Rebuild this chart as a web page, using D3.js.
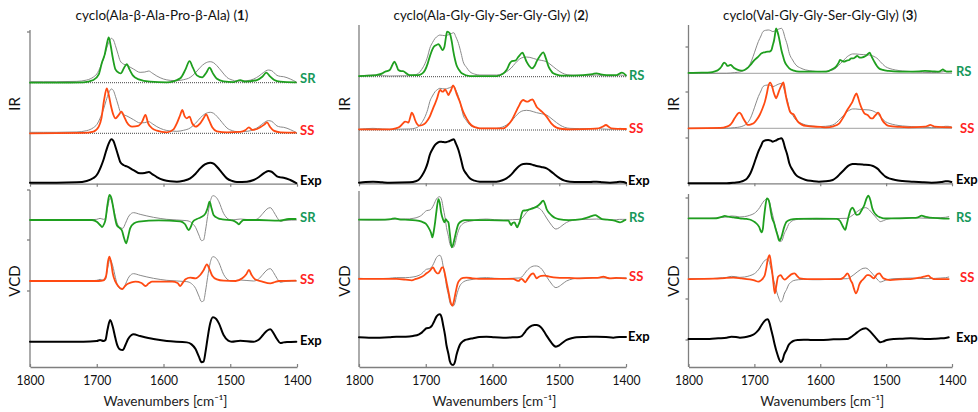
<!DOCTYPE html>
<html><head><meta charset="utf-8">
<script src="https://cdn.jsdelivr.net/npm/d3@7"></script>
<style>body{margin:0;background:#fff}svg{display:block;font-family:Lato,'Open Sans',sans-serif}</style>
</head><body><svg id="c" width="978" height="412"></svg>
<script>
// ---------- data (wavenumber [cm-1], intensity in arbitrary units) ----------
const wnTicks = [1800, 1700, 1600, 1500, 1400];
const titles = [["cyclo(Ala-β-Ala-Pro-β-Ala) (", "1", ")"],
                ["cyclo(Ala-Gly-Gly-Ser-Gly-Gly) (", "2", ")"],
                ["cyclo(Val-Gly-Gly-Ser-Gly-Gly) (", "3", ")"]];
const compNames = ["SR", "RS", "RS"];
const ssName = "SS";
const expName = "Exp";
const sectionNames = ["IR", "VCD"];
const xTitle = "Wavenumbers [cm⁻¹]";

const ir1_SR = [[1800,0],[1760,0],[1720,0.01],[1705,0.08],[1697,0.25],[1692,0.62],[1688,0.85],[1685,1.15],[1682,1.36],[1679,1.10],[1676,0.75],[1672,0.40],[1667,0.30],[1664,0.28],[1659,0.45],[1655,0.56],[1651,0.40],[1646,0.22],[1637,0.10],[1620,0.03],[1595,0.01],[1575,0.13],[1567,0.40],[1561,0.65],[1556,0.45],[1550,0.22],[1542,0.16],[1536,0.30],[1531,0.45],[1526,0.28],[1520,0.12],[1510,0.04],[1495,0.02],[1485,0.08],[1478,0.03],[1460,0.08],[1452,0.18],[1446,0.30],[1440,0.18],[1434,0.08],[1425,0.03],[1402,0.01]];
const ir1_SS = [[1800,0],[1720,0.01],[1705,0.05],[1697,0.20],[1693,0.45],[1689,1.00],[1685,1.35],[1682,1.15],[1679,0.85],[1675,0.55],[1672,0.45],[1667,0.55],[1663,0.65],[1659,0.50],[1655,0.33],[1647,0.20],[1638,0.22],[1632,0.35],[1627,0.55],[1623,0.30],[1617,0.15],[1610,0.08],[1595,0.03],[1585,0.12],[1580,0.30],[1575,0.55],[1572,0.70],[1568,0.50],[1565,0.45],[1561,0.50],[1557,0.30],[1552,0.20],[1545,0.30],[1540,0.45],[1536,0.57],[1532,0.40],[1527,0.18],[1520,0.06],[1505,0.03],[1485,0.04],[1477,0.10],[1472,0.18],[1467,0.10],[1460,0.13],[1455,0.18],[1449,0.26],[1445,0.33],[1440,0.18],[1435,0.08],[1425,0.03],[1402,0.02]];
const ir1_Exp = [[1800,0.03],[1760,0.03],[1730,0.04],[1715,0.08],[1705,0.17],[1700,0.26],[1694,0.50],[1690,0.71],[1686,0.98],[1682,1.21],[1678,1.33],[1675,1.28],[1672,1.11],[1668,0.85],[1665,0.66],[1660,0.56],[1655,0.52],[1645,0.41],[1635,0.31],[1628,0.32],[1622,0.35],[1617,0.29],[1610,0.20],[1600,0.11],[1590,0.07],[1580,0.06],[1570,0.09],[1560,0.16],[1552,0.30],[1545,0.46],[1538,0.58],[1530,0.63],[1525,0.60],[1520,0.51],[1512,0.32],[1505,0.16],[1497,0.08],[1490,0.05],[1475,0.06],[1465,0.11],[1457,0.20],[1450,0.31],[1443,0.38],[1438,0.36],[1430,0.22],[1425,0.19],[1420,0.18],[1410,0.11],[1401,0.02]];
const vcd1_SR = [[1800,0],[1760,0],[1707,0],[1700,-0.05],[1695,-0.15],[1692,-0.21],[1689,-0.12],[1687,0],[1684,0.45],[1681,0.75],[1678,0.65],[1676,0.45],[1673,0.10],[1670,-0.15],[1665,-0.25],[1662,-0.33],[1659,-0.55],[1656,-0.70],[1653,-0.50],[1650,-0.25],[1644,-0.10],[1637,-0.05],[1607,-0.01],[1575,-0.04],[1568,-0.12],[1562,-0.30],[1559,-0.20],[1556,-0.05],[1550,0.03],[1544,0.08],[1537,0.20],[1534,0.35],[1531,0.55],[1528,0.35],[1525,0.15],[1518,0.05],[1512,0.02],[1497,-0.01],[1490,-0.08],[1487,-0.13],[1484,-0.06],[1480,0],[1457,0],[1427,-0.02],[1412,0.03],[1402,0.03]];
const vcd1_SS = [[1800,0],[1697,0],[1690,0.02],[1686,0.15],[1683,0.60],[1681,0.73],[1678,0.50],[1676,0.23],[1672,-0.02],[1668,-0.15],[1662,-0.24],[1658,-0.16],[1655,-0.10],[1648,-0.04],[1642,-0.02],[1633,-0.06],[1627,-0.15],[1622,-0.07],[1617,-0.02],[1587,-0.02],[1579,-0.06],[1575,-0.15],[1571,-0.05],[1567,0.05],[1560,0.10],[1552,0.08],[1545,0.18],[1540,0.32],[1535,0.50],[1531,0.35],[1527,0.16],[1520,0.05],[1510,0.01],[1492,0],[1482,0.08],[1476,0.20],[1472,0.33],[1468,0.18],[1463,0.05],[1452,-0.02],[1440,-0.07],[1433,-0.03],[1427,0],[1402,0.01]];
const vcd1_Exp = [[1800,0],[1760,0],[1720,0],[1700,0.02],[1695,0.05],[1690,0.02],[1687,0.05],[1684,0.35],[1680,0.65],[1676,0.45],[1672,0.10],[1669,-0.12],[1666,-0.22],[1661,-0.25],[1657,-0.10],[1653,0.08],[1648,0.20],[1645,0.22],[1635,0.17],[1615,0.08],[1595,0.02],[1565,-0.02],[1558,-0.08],[1552,-0.22],[1547,-0.45],[1543,-0.62],[1540,-0.60],[1537,-0.30],[1534,0.10],[1530,0.55],[1526,0.73],[1521,0.68],[1517,0.55],[1510,0.20],[1503,0.03],[1498,0],[1485,0.03],[1465,0],[1458,0.05],[1451,0.20],[1445,0.33],[1440,0.37],[1435,0.25],[1430,0.08],[1425,-0.04],[1420,-0.02],[1415,-0.01],[1401,0]];

const ir2_RS = [[1800,0.02],[1785,0.03],[1774,0.05],[1765,0.10],[1761,0.15],[1754,0.20],[1750,0.35],[1747,0.45],[1744,0.35],[1741,0.20],[1737,0.17],[1734,0.17],[1729,0.10],[1724,0.05],[1711,0.05],[1705,0.10],[1701,0.20],[1697,0.40],[1694,0.60],[1690,0.82],[1687,0.92],[1684,0.95],[1681,0.98],[1678,0.90],[1675,0.80],[1672,0.90],[1670,1.15],[1668,1.35],[1664,1.30],[1661,1.05],[1659,0.80],[1656,0.50],[1654,0.35],[1650,0.20],[1646,0.10],[1634,0.02],[1594,0.02],[1585,0.08],[1579,0.20],[1574,0.40],[1571,0.47],[1566,0.48],[1561,0.60],[1555,0.72],[1552,0.60],[1549,0.45],[1545,0.32],[1541,0.25],[1537,0.32],[1534,0.45],[1529,0.62],[1524,0.73],[1520,0.55],[1516,0.30],[1512,0.17],[1509,0.10],[1500,0.04],[1494,0.03],[1464,0.05],[1450,0.08],[1444,0.10],[1438,0.07],[1429,0.05],[1414,0.05],[1406,0.12],[1400,0.04]];
const ir2_SS = [[1800,0.02],[1754,0.02],[1745,0.05],[1739,0.10],[1734,0.20],[1731,0.25],[1728,0.24],[1726,0.22],[1723,0.40],[1721,0.52],[1718,0.42],[1716,0.30],[1713,0.18],[1710,0.13],[1705,0.15],[1701,0.20],[1697,0.30],[1694,0.40],[1691,0.55],[1688,0.70],[1683,0.95],[1680,1.15],[1678,1.20],[1676,1.16],[1674,1.15],[1671,1.22],[1668,1.12],[1666,1.05],[1664,1.12],[1662,1.20],[1659,1.34],[1656,1.22],[1654,1.10],[1651,0.95],[1649,0.85],[1644,0.55],[1639,0.35],[1632,0.15],[1625,0.08],[1619,0.05],[1584,0.05],[1577,0.15],[1571,0.30],[1566,0.50],[1561,0.70],[1557,0.85],[1554,0.90],[1550,0.86],[1547,0.85],[1543,0.90],[1540,0.92],[1537,0.82],[1534,0.70],[1530,0.62],[1526,0.55],[1519,0.40],[1512,0.20],[1504,0.07],[1495,0.03],[1484,0.02],[1444,0.04],[1435,0.10],[1430,0.15],[1426,0.10],[1422,0.05],[1400,0.03]];
const ir2_Exp = [[1800,0.02],[1790,0.04],[1779,0.05],[1765,0.03],[1754,0.02],[1724,0.03],[1715,0.06],[1711,0.10],[1706,0.22],[1701,0.40],[1697,0.62],[1694,0.85],[1690,1.02],[1686,1.15],[1682,1.22],[1679,1.25],[1675,1.24],[1671,1.23],[1667,1.25],[1664,1.27],[1661,1.30],[1658,1.32],[1655,1.20],[1651,1.00],[1647,0.70],[1644,0.45],[1639,0.28],[1634,0.15],[1627,0.08],[1619,0.05],[1594,0.05],[1585,0.09],[1579,0.15],[1572,0.26],[1566,0.40],[1560,0.52],[1554,0.58],[1549,0.59],[1544,0.58],[1539,0.55],[1534,0.52],[1527,0.49],[1519,0.45],[1514,0.38],[1509,0.30],[1504,0.22],[1499,0.15],[1492,0.08],[1484,0.05],[1470,0.04],[1454,0.04],[1444,0.05],[1435,0.03],[1424,0.02],[1415,0.03],[1409,0.05],[1404,0.04],[1400,0.01]];
const vcd2_RS = [[1800,0],[1770,0],[1752,0.02],[1746,0.04],[1740,0.01],[1731,0],[1715,-0.02],[1706,-0.06],[1700,-0.12],[1696,-0.23],[1692,-0.40],[1690,-0.53],[1688,-0.35],[1686,-0.08],[1684,0.25],[1681,0.62],[1679,0.50],[1677,0.22],[1674,0],[1672,-0.08],[1670,0.02],[1668,-0.04],[1666,-0.08],[1664,-0.40],[1661,-0.83],[1659,-0.75],[1657,-0.58],[1654,-0.32],[1651,-0.13],[1646,-0.04],[1641,-0.01],[1606,-0.01],[1576,-0.03],[1574,-0.10],[1572,-0.16],[1570,-0.10],[1567,-0.08],[1565,-0.16],[1563,-0.23],[1561,-0.15],[1559,-0.05],[1556,0.20],[1554,0.27],[1550,0.28],[1546,0.30],[1541,0.33],[1536,0.37],[1532,0.42],[1529,0.47],[1524,0.57],[1521,0.45],[1519,0.32],[1515,0.20],[1511,0.12],[1506,0.05],[1501,0.02],[1486,-0.01],[1466,0.02],[1458,0.06],[1454,0.09],[1446,0.14],[1441,0.08],[1436,0.02],[1428,0],[1421,-0.01],[1415,-0.04],[1409,-0.08],[1405,-0.05],[1401,-0.01]];
const vcd2_SS = [[1800,-0.02],[1770,-0.02],[1744,-0.02],[1730,-0.04],[1721,-0.06],[1715,-0.02],[1709,0.02],[1703,0.08],[1699,0.15],[1694,0.22],[1691,0.30],[1689,0.33],[1686,0.22],[1683,0.15],[1681,0.15],[1678,0.24],[1676,0.32],[1674,0.33],[1671,0.10],[1668,-0.20],[1665,-0.50],[1663,-0.70],[1660,-0.82],[1658,-0.70],[1655,-0.40],[1652,-0.15],[1649,-0.05],[1644,0.01],[1639,0.02],[1630,0],[1614,-0.02],[1569,-0.02],[1564,-0.06],[1561,-0.08],[1558,-0.03],[1556,-0.02],[1553,-0.08],[1551,-0.12],[1548,-0.04],[1545,0.05],[1542,0.12],[1539,0.15],[1536,0.06],[1534,0],[1531,0.04],[1527,0.07],[1522,0.08],[1515,0.05],[1504,0.02],[1485,0.01],[1469,0],[1450,0.01],[1440,0.02],[1434,0.05],[1429,0.02],[1424,0],[1415,0.01],[1400,0]];
const vcd2_Exp = [[1800,0],[1785,-0.01],[1769,-0.01],[1755,0],[1744,0.02],[1730,0.02],[1719,0.04],[1710,0.09],[1706,0.14],[1702,0.22],[1699,0.27],[1694,0.29],[1691,0.34],[1688,0.45],[1684,0.62],[1681,0.68],[1679,0.69],[1676,0.58],[1674,0.37],[1671,0.05],[1669,-0.23],[1666,-0.50],[1664,-0.71],[1661,-0.82],[1659,-0.83],[1656,-0.72],[1654,-0.53],[1651,-0.33],[1649,-0.23],[1645,-0.13],[1641,-0.08],[1635,-0.05],[1629,-0.03],[1620,0.01],[1609,0.02],[1597,0],[1584,-0.01],[1570,0],[1560,0.01],[1556,0.04],[1552,0.14],[1549,0.22],[1545,0.30],[1541,0.35],[1537,0.37],[1534,0.37],[1530,0.34],[1526,0.27],[1522,0.15],[1519,0.05],[1515,-0.07],[1511,-0.18],[1508,-0.25],[1505,-0.28],[1500,-0.24],[1496,-0.18],[1489,-0.08],[1480,-0.02],[1474,0],[1460,0.01],[1444,0.02],[1430,0.01],[1419,-0.01],[1410,0.01],[1400,0.01]];

const ir3_RS = [[1800,0.01],[1780,0.02],[1767,0.03],[1760,0.06],[1755,0.10],[1750,0.20],[1748,0.27],[1746,0.32],[1743,0.28],[1741,0.22],[1738,0.24],[1736,0.25],[1733,0.20],[1730,0.15],[1725,0.10],[1720,0.08],[1715,0.10],[1711,0.15],[1706,0.25],[1702,0.35],[1698,0.43],[1694,0.50],[1689,0.60],[1684,0.63],[1679,0.65],[1676,0.66],[1674,0.70],[1672,0.85],[1670,1.00],[1668,1.25],[1667,1.35],[1665,1.25],[1663,1.10],[1661,0.90],[1659,0.70],[1656,0.48],[1654,0.35],[1650,0.22],[1647,0.15],[1640,0.08],[1632,0.05],[1591,0.05],[1582,0.12],[1576,0.20],[1572,0.32],[1570,0.40],[1567,0.37],[1564,0.35],[1560,0.38],[1556,0.40],[1553,0.45],[1550,0.45],[1547,0.48],[1544,0.52],[1541,0.48],[1539,0.47],[1536,0.48],[1533,0.50],[1529,0.55],[1525,0.62],[1522,0.50],[1518,0.35],[1514,0.22],[1511,0.15],[1505,0.10],[1496,0.07],[1480,0.05],[1466,0.05],[1450,0.06],[1441,0.07],[1430,0.06],[1420,0.05],[1416,0.09],[1414,0.12],[1411,0.08],[1408,0.05],[1401,0.06]];
const ir3_SS = [[1800,0],[1752,0.01],[1742,0.05],[1737,0.10],[1733,0.20],[1730,0.30],[1726,0.42],[1723,0.47],[1720,0.42],[1717,0.30],[1713,0.17],[1710,0.10],[1705,0.12],[1700,0.17],[1696,0.27],[1692,0.40],[1688,0.58],[1684,0.80],[1681,1.05],[1679,1.25],[1676,1.37],[1673,1.25],[1671,1.10],[1669,0.98],[1667,0.90],[1665,0.98],[1662,1.15],[1659,1.28],[1656,1.38],[1654,1.20],[1652,0.95],[1649,0.70],[1646,0.50],[1643,0.44],[1641,0.43],[1638,0.33],[1634,0.20],[1628,0.11],[1622,0.07],[1600,0.04],[1591,0.03],[1580,0.06],[1571,0.15],[1565,0.33],[1559,0.55],[1555,0.67],[1551,0.80],[1548,0.95],[1545,1.05],[1543,0.95],[1540,0.75],[1536,0.55],[1533,0.45],[1528,0.40],[1523,0.30],[1520,0.30],[1518,0.35],[1515,0.42],[1512,0.47],[1509,0.38],[1506,0.25],[1501,0.13],[1496,0.07],[1480,0.04],[1466,0.03],[1441,0.05],[1436,0.08],[1433,0.10],[1429,0.07],[1426,0.05],[1401,0.03]];
const ir3_Exp = [[1800,0],[1770,0],[1742,0],[1730,0.02],[1722,0.04],[1716,0.08],[1711,0.15],[1706,0.30],[1702,0.50],[1698,0.73],[1694,0.95],[1690,1.12],[1687,1.25],[1683,1.29],[1679,1.30],[1675,1.28],[1672,1.25],[1668,1.28],[1664,1.32],[1661,1.34],[1659,1.35],[1656,1.25],[1654,1.10],[1650,0.85],[1647,0.60],[1642,0.40],[1637,0.25],[1630,0.16],[1622,0.10],[1612,0.07],[1602,0.05],[1592,0.06],[1581,0.10],[1575,0.18],[1569,0.30],[1564,0.40],[1559,0.50],[1555,0.55],[1551,0.58],[1546,0.58],[1541,0.57],[1534,0.56],[1526,0.55],[1520,0.52],[1516,0.48],[1512,0.42],[1509,0.35],[1505,0.27],[1501,0.20],[1494,0.14],[1486,0.10],[1475,0.07],[1461,0.05],[1445,0.03],[1431,0.02],[1416,0.04],[1410,0.06],[1406,0.06],[1401,0.04]];
const vcd3_RS = [[1800,0],[1770,0],[1758,0],[1750,0.04],[1745,0.07],[1740,0.05],[1732,0.03],[1722,0],[1712,-0.02],[1705,-0.05],[1699,-0.12],[1693,-0.25],[1689,-0.42],[1687,-0.30],[1686,-0.10],[1684,0.25],[1681,0.60],[1679,0.57],[1677,0.45],[1675,0.20],[1673,0],[1670,-0.15],[1668,-0.30],[1665,-0.50],[1662,-0.68],[1660,-0.62],[1658,-0.50],[1655,-0.28],[1651,-0.10],[1645,-0.04],[1636,-0.02],[1606,-0.01],[1575,-0.02],[1570,-0.08],[1568,-0.15],[1565,-0.27],[1562,-0.35],[1560,-0.20],[1557,0.05],[1554,0.25],[1551,0.32],[1548,0.22],[1545,0.10],[1541,0.12],[1537,0.25],[1533,0.40],[1530,0.58],[1527,0.68],[1524,0.55],[1521,0.30],[1518,0.17],[1514,0.08],[1509,0.03],[1504,0],[1479,0],[1460,0.01],[1453,0.02],[1446,0.08],[1440,0.04],[1434,0.02],[1418,0],[1405,-0.01]];
const vcd3_SS = [[1800,-0.01],[1760,0],[1745,0.02],[1732,0.03],[1720,0.01],[1707,-0.02],[1700,-0.05],[1694,-0.09],[1690,-0.05],[1687,0.01],[1684,0.12],[1682,0.31],[1680,0.55],[1677,0.71],[1675,0.50],[1673,0.21],[1671,-0.15],[1669,-0.44],[1667,-0.25],[1664,0.06],[1660,0.11],[1657,0.02],[1654,-0.03],[1651,0.01],[1647,0.08],[1644,0.13],[1639,0.16],[1635,0.08],[1631,0.01],[1620,-0.01],[1606,-0.01],[1570,-0.01],[1565,0.03],[1562,0.09],[1559,0.16],[1556,0.08],[1554,-0.04],[1551,-0.15],[1549,-0.29],[1546,-0.44],[1543,-0.33],[1541,-0.19],[1538,-0.08],[1535,-0.02],[1532,0.05],[1529,0.11],[1526,0.11],[1524,0.09],[1519,0.01],[1516,0.07],[1514,0.13],[1510,0.16],[1507,0.08],[1504,0.01],[1494,-0.04],[1480,-0.02],[1463,-0.01],[1450,0.03],[1443,0.06],[1436,0.09],[1432,0.03],[1428,-0.01],[1405,-0.01]];
const vcd3_Exp = [[1800,0],[1768,0],[1755,0.02],[1742,0.04],[1735,0.07],[1728,0.06],[1722,0.04],[1715,0.05],[1707,0.09],[1700,0.15],[1696,0.22],[1692,0.32],[1689,0.42],[1685,0.53],[1682,0.58],[1680,0.59],[1677,0.48],[1675,0.32],[1672,0.08],[1669,-0.18],[1666,-0.40],[1663,-0.58],[1660,-0.70],[1657,-0.62],[1655,-0.48],[1651,-0.32],[1648,-0.18],[1644,-0.10],[1641,-0.06],[1633,-0.03],[1625,-0.02],[1612,-0.03],[1600,-0.03],[1580,-0.01],[1559,0],[1554,0.05],[1549,0.12],[1544,0.20],[1539,0.27],[1535,0.31],[1531,0.32],[1527,0.28],[1524,0.22],[1520,0.13],[1516,0.04],[1512,-0.05],[1509,-0.10],[1504,-0.07],[1499,-0.03],[1488,0],[1475,0.01],[1463,0.02],[1450,0.01],[1438,0],[1425,0.01],[1417,0.02],[1410,0.03],[1405,0.05]];

// ---------- layout & style ----------
const UNIT = 100 / 3; // px per intensity unit
const COL = {green: "#1f9f1f", red: "#ff4a12", gray: "#8a8a8a", black: "#000",
             lblGreen: "#16985a", lblRed: "#ff2222", axis: "#7f7f7f"};
const layout = [
  {x0: 30, x1: 297, cx: 162, titleW: 173, irTop: 30, vcdTop: 190, bottom: 367,
   irBase: [82.7, 133.3, 183.7], vcdBase: [220, 281, 341.7], yLabX: 20,
   lblX: [300, 300, 300], irLblY: [83.3, 135, 185], vcdLblY: [222, 284, 345],
   irTicks: [32], vcdTicks: [190, 240, 291]},
  {x0: 359, x1: 626, cx: 491, titleW: 195, irTop: 25, vcdTop: 191, bottom: 367,
   irBase: [76.7, 130, 183.3], vcdBase: [219.7, 278.3, 337.3], yLabX: 350,
   lblX: [629, 629, 628], irLblY: [80, 132.7, 185], vcdLblY: [222, 281, 341],
   irTicks: [], vcdTicks: []},
  {x0: 688.5, x1: 952, cx: 820, titleW: 194, irTop: 25, vcdTop: 194, bottom: 367,
   irBase: [73.3, 128.3, 183.3], vcdBase: [218.3, 278.7, 339], yLabX: 679,
   lblX: [956, 960, 956], irLblY: [76, 132.7, 184], vcdLblY: [222, 282, 342],
   irTicks: [47, 92, 138], vcdTicks: [198, 258, 299, 340]}
];
const panelData = [
  {ir: [ir1_SR, ir1_SS, ir1_Exp], vcd: [vcd1_SR, vcd1_SS, vcd1_Exp]},
  {ir: [ir2_RS, ir2_SS, ir2_Exp], vcd: [vcd2_RS, vcd2_SS, vcd2_Exp]},
  {ir: [ir3_RS, ir3_SS, ir3_Exp], vcd: [vcd3_RS, vcd3_SS, vcd3_Exp]}
];

const svg = d3.select("#c");

function trace(g, x, base, data, color, width) {
  const y = d3.scaleLinear().domain([0, 1]).range([base, base - UNIT]);
  const line = d3.line().x(d => x(d[0])).y(d => y(d[1])).curve(d3.curveMonotoneX);
  g.append("path").datum(data).attr("d", line).attr("fill", "none")
    .attr("stroke", color).attr("stroke-width", width)
    .attr("stroke-linejoin", "round").attr("stroke-linecap", "round");
}

layout.forEach((L, p) => {
  const D = panelData[p];
  const g = svg.append("g");
  const x = d3.scaleLinear().domain([wnTicks[0], wnTicks[wnTicks.length - 1]]).range([L.x0, L.x1]);

  // title (measured, then scaled horizontally to the reference width)
  const tg = g.append("g");
  const t = tg.append("text").attr("x", 0).attr("y", 0).attr("text-anchor", "middle")
    .attr("font-size", 14).attr("fill", "#111");
  titles[p].forEach((s, i) => t.append("tspan").text(s).attr("font-weight", i === 1 ? "bold" : "normal"));
  const natural = t.node().getComputedTextLength() || L.titleW;
  tg.attr("transform", `translate(${L.cx},20) scale(${L.titleW / natural},1)`);

  // axes
  const ax = g.append("g").attr("stroke", COL.axis).attr("stroke-width", 1.3);
  ax.append("line").attr("x1", L.x0).attr("x2", L.x0).attr("y1", L.irTop).attr("y2", L.irBase[2]);
  ax.append("line").attr("x1", L.x0).attr("x2", L.x0).attr("y1", L.vcdTop).attr("y2", L.bottom);
  L.irTicks.concat(L.vcdTicks).forEach(ty =>
    ax.append("line").attr("x1", L.x0 - 3).attr("x2", L.x0).attr("y1", ty).attr("y2", ty));

  const irAxis = g.append("g").attr("transform", `translate(0,${L.irBase[2]})`)
    .call(d3.axisBottom(x).tickValues(wnTicks).tickFormat("").tickSizeInner(3).tickSizeOuter(0));
  irAxis.select(".domain").attr("stroke", COL.axis).attr("stroke-width", 1.3);
  irAxis.selectAll(".tick line").attr("stroke", COL.axis).attr("stroke-width", 1.2);

  const vAxis = g.append("g").attr("transform", `translate(0,${L.bottom})`)
    .call(d3.axisBottom(x).tickValues(wnTicks).tickFormat(d3.format("d")).tickSizeInner(-3).tickSizeOuter(0).tickPadding(8));
  vAxis.select(".domain").attr("stroke", COL.axis).attr("stroke-width", 1.3);
  vAxis.selectAll(".tick line").attr("stroke", COL.axis).attr("stroke-width", 1.2);
  vAxis.selectAll(".tick text").attr("font-size", 14).attr("fill", "#111")
    .attr("font-family", "Lato, sans-serif")
    .attr("textLength", 28).attr("lengthAdjust", "spacingAndGlyphs");

  g.append("text").attr("x", (L.x0 + L.x1) / 2 + 2).attr("y", 406).attr("text-anchor", "middle")
    .attr("font-size", 14).attr("fill", "#222").text(xTitle)
    .attr("textLength", 124).attr("lengthAdjust", "spacingAndGlyphs");

  // section labels
  [[sectionNames[0], 104], [sectionNames[1], 281]].forEach(([s, cy]) =>
    g.append("text").attr("transform", `translate(${L.yLabX},${cy}) rotate(-90)`)
      .attr("text-anchor", "middle").attr("font-size", 15).attr("fill", "#111").text(s));

  // IR dotted baselines
  [0, 1].forEach(i => g.append("line").attr("x1", L.x0).attr("x2", L.x1)
    .attr("y1", L.irBase[i]).attr("y2", L.irBase[i])
    .attr("stroke", "#444").attr("stroke-width", 1).attr("stroke-dasharray", "1,1"));

  const colors = [COL.green, COL.red];
  ["ir", "vcd"].forEach(sec => {
    const bases = sec === "ir" ? L.irBase : L.vcdBase;
    const series = D[sec];
    [0, 1].forEach(i => {
      trace(g, x, bases[i], series[2], COL.gray, 1);
      trace(g, x, bases[i], series[i], colors[i], 1.8);
    });
    trace(g, x, bases[2], series[2], COL.black, 2);
  });

  // trace labels
  const names = [compNames[p], ssName, expName];
  const lcols = [COL.lblGreen, COL.lblRed, "#000"];
  [L.irLblY, L.vcdLblY].forEach(ys => ys.forEach((yy, i) =>
    g.append("text").attr("x", L.lblX[i]).attr("y", yy).attr("font-size", 13)
      .attr("font-weight", "bold").attr("fill", lcols[i]).text(names[i])));
});
</script></body></html>
